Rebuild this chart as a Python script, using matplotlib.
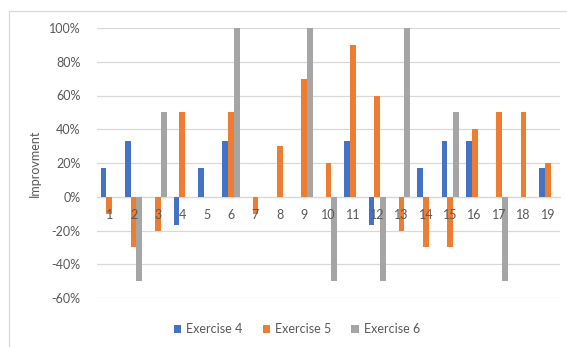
import matplotlib
matplotlib.use("Agg")
import matplotlib.pyplot as plt
import numpy as np
from matplotlib.patches import Rectangle
from matplotlib.ticker import FuncFormatter
from matplotlib.transforms import offset_copy

categories = [str(i) for i in range(1, 20)]
exercise4 = [0.17, 0.33, 0.0, -0.17, 0.17, 0.33, 0.0, 0.0, 0.0, 0.0,
             0.33, -0.17, 0.0, 0.17, 0.33, 0.33, 0.0, 0.0, 0.17]
exercise5 = [-0.10, -0.30, -0.20, 0.50, 0.0, 0.50, -0.10, 0.30, 0.70, 0.20,
             0.90, 0.60, -0.20, -0.30, -0.30, 0.40, 0.50, 0.50, 0.20]
exercise6 = [0.0, -0.50, 0.50, 0.0, 0.0, 1.00, 0.0, 0.0, 1.00, -0.50,
             0.0, -0.50, 1.00, 0.0, 0.50, 0.0, -0.50, 0.0, 0.0]
series_names = ["Exercise 4", "Exercise 5", "Exercise 6"]
y_ticks = [-0.6, -0.4, -0.2, 0.0, 0.2, 0.4, 0.6, 0.8, 1.0]

colors = ["#4472C4", "#ED7D31", "#A5A5A5"]
text_color = "#595959"
grid_color = "#D9D9D9"

plt.rcParams["font.family"] = ["Lato", "DejaVu Sans"]

fig = plt.figure(figsize=(5.67, 3.47), dpi=100)
ax = fig.add_axes([97 / 567, 1 - 298 / 347, (560 - 97) / 567, (298 - 28) / 347])

x = np.arange(len(categories))
w = 0.235
for k, (vals, name) in enumerate(zip([exercise4, exercise5, exercise6], series_names)):
    ax.bar(x + (k - 1) * w, vals, width=w, color=colors[k], label=name, zorder=3)

ax.set_xlim(-0.5, len(categories) - 0.5)
ax.set_ylim(-0.6, 1.0)
ax.set_yticks(y_ticks)
ax.yaxis.set_major_formatter(FuncFormatter(lambda v, _: f"{v * 100:.0f}%"))
ax.grid(axis="y", color=grid_color, linewidth=0.9, zorder=0)
ax.set_xticks([])

# category labels sit just under the zero line, drawn over the bars
label_tf = offset_copy(ax.transData, fig=fig, x=0, y=-18, units="dots")
for xi, cat in zip(x, categories):
    ax.text(xi, 0, cat, transform=label_tf, ha="center", va="center",
            fontsize=9, color=text_color, zorder=5)

for side in ["top", "right", "left"]:
    ax.spines[side].set_visible(False)
ax.spines["bottom"].set_position(("data", 0))
ax.spines["bottom"].set_color(grid_color)
ax.spines["bottom"].set_linewidth(0.9)

ax.tick_params(axis="both", length=0, colors=text_color, labelsize=9)
ax.tick_params(axis="y", pad=12)

ax.set_ylabel("Improvment", color=text_color, fontsize=9)
ax.yaxis.set_label_coords((41 - 97) / 463, 0.5)

leg = fig.legend(loc="center", bbox_to_anchor=(297 / 567, 1 - 329 / 347), ncol=3,
                 frameon=False, fontsize=9, handlelength=0.6, handleheight=0.6,
                 handletextpad=0.4, columnspacing=1.6)
for t in leg.get_texts():
    t.set_color(text_color)

fig.patches.append(Rectangle((9 / 567, -0.01), 1.0, 1 - 11 / 347 + 0.01,
                             transform=fig.transFigure, fill=False,
                             edgecolor="#D9D9D9", linewidth=0.9))

fig.savefig("out.png", dpi=100)
